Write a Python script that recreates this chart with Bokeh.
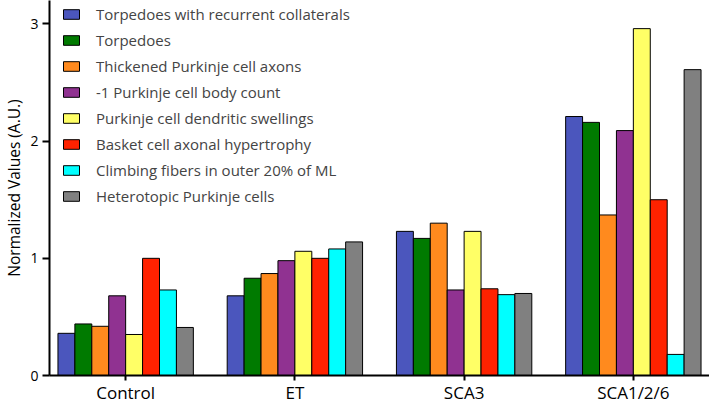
from bokeh.plotting import figure
from bokeh.models import Range1d, FixedTicker, Legend, LegendItem, ColumnDataSource
from bokeh.embed import file_html
from bokeh.resources import INLINE

categories = ["Control", "ET", "SCA3", "SCA1/2/6"]
series_names = [
    "Torpedoes with recurrent collaterals",
    "Torpedoes",
    "Thickened Purkinje cell axons",
    "-1 Purkinje cell body count",
    "Purkinje cell dendritic swellings",
    "Basket cell axonal hypertrophy",
    "Climbing fibers in outer 20% of ML",
    "Heterotopic Purkinje cells",
]
torpedoes_recurrent = [0.36, 0.68, 1.23, 2.21]
torpedoes = [0.44, 0.83, 1.17, 2.16]
thickened_axons = [0.42, 0.87, 1.30, 1.37]
pc_body_count = [0.68, 0.98, 0.73, 2.09]
dendritic_swellings = [0.35, 1.06, 1.23, 2.96]
basket_hypertrophy = [1.00, 1.00, 0.74, 1.50]
climbing_fibers = [0.73, 1.08, 0.69, 0.18]
heterotopic = [0.41, 1.14, 0.70, 2.61]
series_values = [torpedoes_recurrent, torpedoes, thickened_axons, pc_body_count,
                 dendritic_swellings, basket_hypertrophy, climbing_fibers, heterotopic]
colors = ["#4B56BD", "#007A00", "#FF8A1E", "#903291", "#FFFF66", "#FF2200", "#00FFFF", "#808080"]
y_ticks = [0, 1, 2, 3]

FONT = "Open Sans"

p = figure(width=709, height=406, output_backend="svg", toolbar_location=None,
           x_range=Range1d(-0.45, 3.45), y_range=Range1d(0, 3.2),
           min_border_left=48, min_border_right=0, min_border_top=0, min_border_bottom=22)
p.outline_line_color = None
p.xgrid.visible = False
p.ygrid.visible = False

n = len(series_values)
bw = 0.1
items = []
for j, (name, vals, col) in enumerate(zip(series_names, series_values, colors)):
    xs = [i + (j - (n - 1) / 2) * bw for i in range(len(categories))]
    src = ColumnDataSource(dict(x=xs, top=vals))
    r = p.vbar(x="x", top="top", bottom=0, width=bw, source=src,
               fill_color=col, line_color="black", line_width=1)
    items.append(LegendItem(label=name, renderers=[r]))

legend = Legend(items=items, location=(12, 169), padding=0, margin=0,
                spacing=6, label_height=20, glyph_width=20, glyph_height=12,
                label_standoff=15, label_text_font=FONT, label_text_font_size="15px",
                border_line_color=None, background_fill_alpha=0)
p.add_layout(legend, "center")

xa = p.xaxis[0]
xa.ticker = FixedTicker(ticks=list(range(len(categories))))
xa.major_label_overrides = {i: c for i, c in enumerate(categories)}
xa.major_label_text_font = FONT
xa.major_label_text_font_size = "17px"
xa.major_label_text_color = "black"
xa.major_tick_out = 5
xa.major_tick_in = 0
xa.minor_tick_line_color = None
xa.axis_line_width = 2
xa.major_tick_line_width = 2
xa.major_label_standoff = 0
xa.axis_label_standoff = 0

ya = p.yaxis[0]
ya.ticker = FixedTicker(ticks=y_ticks)
ya.axis_label = "Normalized Values (A.U.)"
ya.axis_label_text_font = FONT
ya.axis_label_text_font_size = "15.5px"
ya.axis_label_text_font_style = "normal"
ya.axis_label_text_color = "black"
ya.axis_label_standoff = 2
ya.major_label_text_font = FONT
ya.major_label_text_font_size = "14px"
ya.major_label_text_color = "black"
ya.major_tick_out = 7
ya.major_tick_in = 0
ya.minor_tick_line_color = None
ya.axis_line_width = 2
ya.major_tick_line_width = 2
ya.major_label_standoff = 4

open("out.html", "w").write(file_html(p, INLINE))
